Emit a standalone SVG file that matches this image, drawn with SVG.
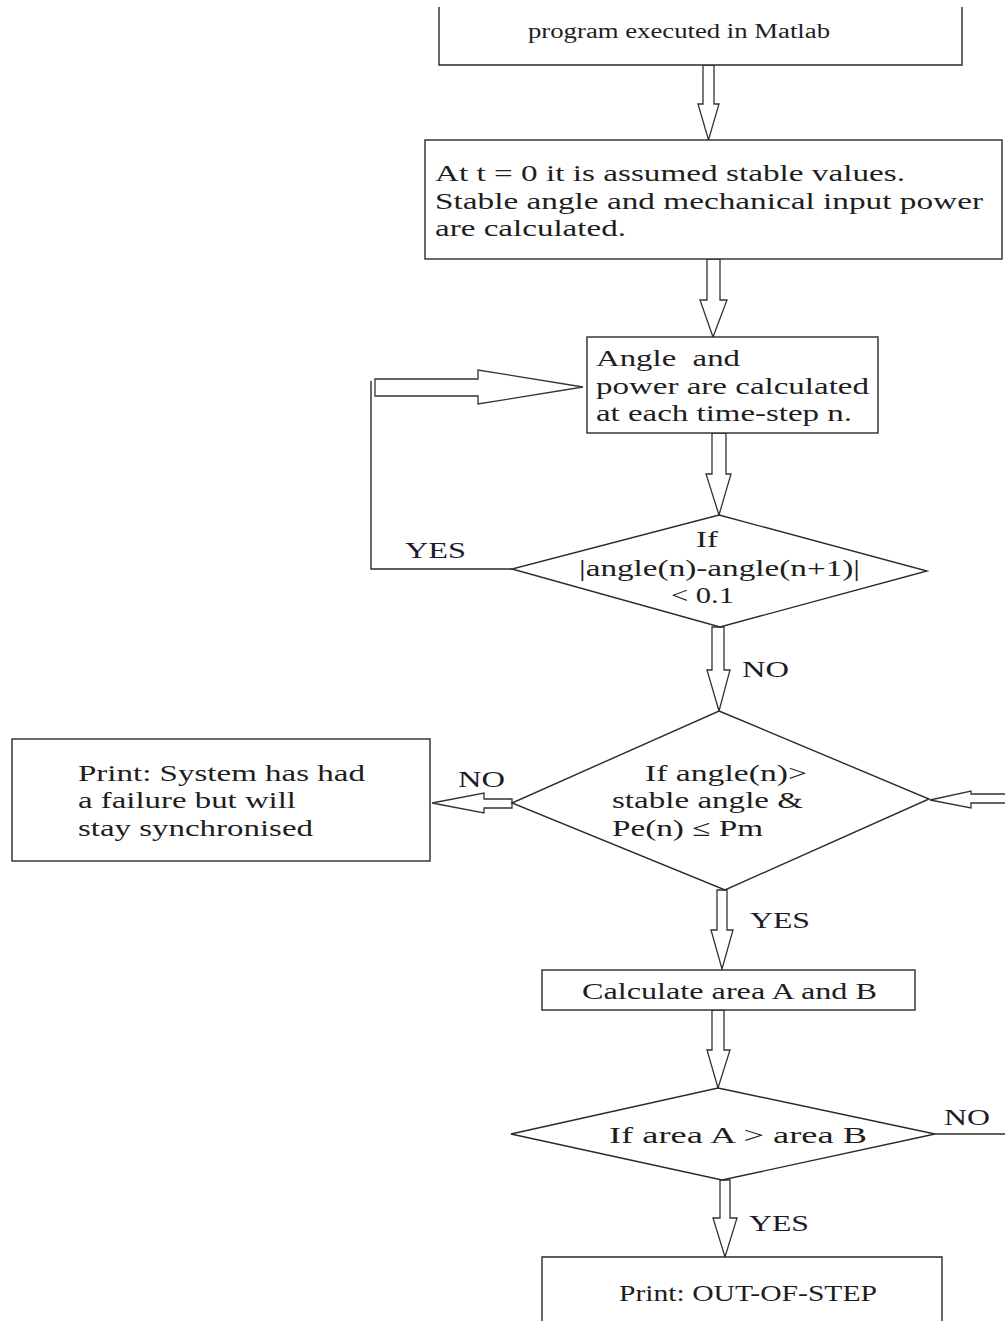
<svg xmlns="http://www.w3.org/2000/svg" width="1005" height="1321" viewBox="0 0 1005 1321">
<style>
.box{fill:#fff;stroke:#2a2a2a;stroke-width:1.4}
.ln{fill:none;stroke:#2a2a2a;stroke-width:1.4}
.arr{fill:#fff;stroke:#333;stroke-width:1.3;stroke-linejoin:miter}
text{font-family:"Liberation Serif","Times New Roman",serif;fill:#1e1e1e;font-size:23px}
.sm{font-size:20px}
.lab{font-size:24px;fill:#1b1b2a}
</style>
<rect width="1005" height="1321" fill="#fff"/>
<g id="connectors">
  <polygon class="arr" points="703,65 714,65 714,104 719,104 708.5,140 698,104 703,104"/>
  <polygon class="arr" points="707,259 720,259 720,300 727,300 713,337 700,300 707,300"/>
  <polygon class="arr" points="712,433 726,433 726,474 731,474 719,515 706,474 712,474"/>
  <polyline class="ln" points="512,569 371,569 371,381"/>
  <polygon class="arr" points="375,379 478,379 478,370 583,387 478,404 478,396 375,396"/>
  <polygon class="arr" points="712,627 724,627 724,670 730,670 719,711 707,670 712,670"/>
  <polygon class="arr" points="512,799 484,799 484,793 432,803 484,813 484,808 512,808"/>
  <polygon class="arr" points="1006,794 971,794 971,791 930,800 971,808 971,803 1006,803"/>
  <polygon class="arr" points="717,890 727,890 727,930 733,930 722,969 711,930 717,930"/>
  <polygon class="arr" points="712,1010 724,1010 724,1050 730,1050 718,1088 707,1050 712,1050"/>
  <line class="ln" x1="935" y1="1134" x2="1005" y2="1134"/>
  <polygon class="arr" points="720,1180 730,1180 730,1218 737,1218 725,1257 713,1218 720,1218"/>
  <text class="lab" x="405" y="558" textLength="61" lengthAdjust="spacingAndGlyphs">YES</text>
  <text class="lab" x="742" y="677" textLength="47" lengthAdjust="spacingAndGlyphs">NO</text>
  <text class="lab" x="458" y="787" textLength="47" lengthAdjust="spacingAndGlyphs">NO</text>
  <text class="lab" x="750" y="928" textLength="60" lengthAdjust="spacingAndGlyphs">YES</text>
  <text class="lab" x="944" y="1125" textLength="46" lengthAdjust="spacingAndGlyphs">NO</text>
  <text class="lab" x="749" y="1231" textLength="60" lengthAdjust="spacingAndGlyphs">YES</text>
</g>
<g id="start">
  <path class="box" d="M439,7 V65 H962 V7"/>
  <text class="sm" x="528" y="38" textLength="302" lengthAdjust="spacingAndGlyphs">program executed in Matlab</text>
</g>
<g id="init">
  <rect class="box" x="425" y="140" width="577" height="119"/>
  <text x="435" y="181" textLength="470" lengthAdjust="spacingAndGlyphs">At t = 0 it is assumed stable values.</text>
  <text x="435" y="209" textLength="548" lengthAdjust="spacingAndGlyphs">Stable angle and mechanical input power</text>
  <text x="435" y="236" textLength="191" lengthAdjust="spacingAndGlyphs">are calculated.</text>
</g>
<g id="calc-step">
  <rect class="box" x="587" y="337" width="291" height="96"/>
  <text x="596" y="366" textLength="144" lengthAdjust="spacingAndGlyphs" style="white-space:pre">Angle  and</text>
  <text x="596" y="394" textLength="273" lengthAdjust="spacingAndGlyphs">power are calculated</text>
  <text x="596" y="421" textLength="256" lengthAdjust="spacingAndGlyphs">at each time-step n.</text>
</g>
<g id="decision-converge">
  <polygon class="box" points="719,515 927,571 720,627 512,569"/>
  <text x="696" y="547" textLength="22" lengthAdjust="spacingAndGlyphs">If</text>
  <text x="579" y="576" textLength="281" lengthAdjust="spacingAndGlyphs">|angle(n)-angle(n+1)|</text>
  <text x="671" y="603" textLength="63" lengthAdjust="spacingAndGlyphs">&lt; 0.1</text>
</g>
<g id="decision-angle">
  <polygon class="box" points="719,711 929,799 725,890 512,803"/>
  <text x="645" y="781" textLength="162" lengthAdjust="spacingAndGlyphs">If angle(n)&gt;</text>
  <text x="612" y="808" textLength="191" lengthAdjust="spacingAndGlyphs">stable angle &amp;</text>
  <text x="612" y="836" textLength="151" lengthAdjust="spacingAndGlyphs">Pe(n) ≤ Pm</text>
</g>
<g id="print-sync">
  <rect class="box" x="12" y="739" width="418" height="122"/>
  <text x="78" y="781" textLength="287" lengthAdjust="spacingAndGlyphs">Print: System has had</text>
  <text x="78" y="808" textLength="218" lengthAdjust="spacingAndGlyphs">a failure but will</text>
  <text x="78" y="836" textLength="235" lengthAdjust="spacingAndGlyphs">stay synchronised</text>
</g>
<g id="calc-area">
  <rect class="box" x="542" y="970" width="373" height="40"/>
  <text x="582" y="999" textLength="295" lengthAdjust="spacingAndGlyphs">Calculate area A and B</text>
</g>
<g id="decision-area">
  <polygon class="box" points="718,1088 935,1134 722,1180 511,1134"/>
  <text x="609" y="1143" textLength="258" lengthAdjust="spacingAndGlyphs">If area A &gt; area B</text>
</g>
<g id="print-oos">
  <path class="box" d="M542,1322 V1257 H942 V1322"/>
  <text x="619" y="1301" textLength="258" lengthAdjust="spacingAndGlyphs">Print: OUT-OF-STEP</text>
</g>
</svg>
